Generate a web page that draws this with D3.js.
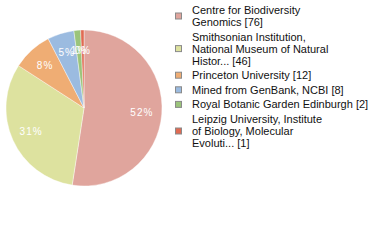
<!DOCTYPE html>
<html>
<head>
<meta charset="utf-8">
<script src="https://cdn.jsdelivr.net/npm/d3@7"></script>
<style>
  body { margin: 0; background: #fff; }
  svg text { font-family: "Liberation Sans", Arial, sans-serif; }
</style>
</head>
<body>
<div id="chart"></div>
<script>
// chart data
const institutions = [
    "Centre for Biodiversity Genomics",
    "Smithsonian Institution, National Museum of Natural Histor...",
    "Princeton University",
    "Mined from GenBank, NCBI",
    "Royal Botanic Garden Edinburgh",
    "Leipzig University, Institute of Biology, Molecular Evoluti..."
];
const counts = [76, 46, 12, 8, 2, 1];
// legend text split into lines as in the picture
const legendLines = [
    ["Centre for Biodiversity", "Genomics [76]"],
    ["Smithsonian Institution,", "National Museum of Natural", "Histor... [46]"],
    ["Princeton University [12]"],
    ["Mined from GenBank, NCBI [8]"],
    ["Royal Botanic Garden Edinburgh [2]"],
    ["Leipzig University, Institute", "of Biology, Molecular", "Evoluti... [1]"]
];
const colors = ["#e0a59d", "#dde29f", "#efad74", "#9bbbe0", "#9bc47b", "#e06b53"];

const width = 380, height = 240;
const cx = 84, cy = 108, radius = 78;
const total = d3.sum(counts);

let svg = d3.select('#chart')
    .append('svg')
    .attr('width', width)
    .attr('height', height);

let data = counts.map(function(d, i) {
    return {name: institutions[i], value: d, index: i};
});

const pie = d3.pie()
    .value(function(d) { return d.value; })
    .sort(null);

const arc = d3.arc()
    .innerRadius(0)
    .outerRadius(radius);

const labelArc = d3.arc()
    .innerRadius(58)
    .outerRadius(58);

let g = svg.append('g')
    .attr('transform', `translate(${cx},${cy})`);

let arcs = pie(data);

g.selectAll('path')
    .data(arcs)
    .join('path')
    .attr('d', arc)
    .attr('fill', function(d) { return colors[d.data.index]; })
    .attr('stroke', '#ffffff')
    .attr('stroke-width', 0.4);

// percent labels (truncated like the original)
g.selectAll('text')
    .data(arcs)
    .join('text')
    .attr('transform', function(d) {
        let c = labelArc.centroid(d);
        return `translate(${c[0]},${c[1]})`;
    })
    .attr('text-anchor', 'middle')
    .attr('dy', '0.35em')
    .attr('font-size', 10)
    .attr('letter-spacing', 1)
    .attr('fill', '#ffffff')
    .text(function(d) { return Math.floor(d.data.value / total * 100) + '%'; });

// legend
const lineH = 12, gap = 2.6;
let y0 = 14;
let legend = svg.append('g');

legendLines.forEach(function(lines, i) {
    let item = legend.append('g');
    let midY = y0 - 4 + (lines.length - 1) * lineH / 2;
    item.append('rect')
        .attr('x', 175.5)
        .attr('y', midY - 3)
        .attr('width', 6)
        .attr('height', 6)
        .attr('fill', colors[i])
        .attr('stroke', '#8a8a8a')
        .attr('stroke-width', 1);
    item.selectAll('text')
        .data(lines)
        .join('text')
        .attr('x', 192)
        .attr('y', function(d, k) { return y0 + k * lineH; })
        .attr('font-size', 11)
        .attr('fill', '#111')
        .text(function(d) { return d; });
    y0 += lines.length * lineH + gap;
});
</script>
</body>
</html>
